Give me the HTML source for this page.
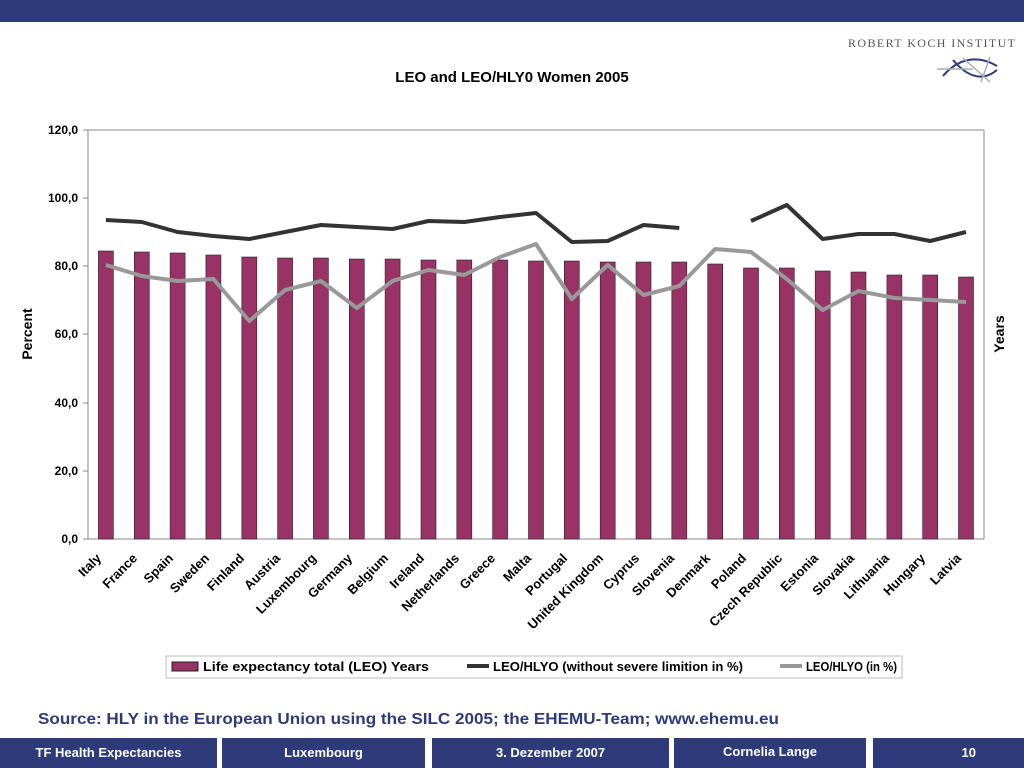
<!DOCTYPE html>
<html><head><meta charset="utf-8"><style>
body{margin:0;width:1024px;height:768px;background:#fff;font-family:"Liberation Sans",Arial,sans-serif;overflow:hidden;position:relative}
.f{position:absolute;top:738px;height:30px;background:#2e3a7a;color:#fff;font-size:13px;font-weight:bold;text-align:center;line-height:30px}
</style></head><body>
<div style="position:absolute;left:0;top:0;width:1024px;height:22px;background:#2e3a7a"></div>
<div style="position:absolute;left:848px;top:36px;white-space:nowrap;font-family:'Liberation Serif',serif;font-size:12px;letter-spacing:1.4px;color:#555">ROBERT KOCH INSTITUT</div>
<svg style="position:absolute;left:935px;top:54px" width="70" height="30"><path d="M8,22 C25,2 45,2 62,12 M18,6 C35,26 50,26 62,16" stroke="#2e3a7a" stroke-width="2" fill="none"/><path d="M2,15 L38,15 M28,4 L55,28 M55,3 L46,28" stroke="#aab" stroke-width="1.5"/></svg>
<svg style="position:absolute;left:0;top:0" width="1024" height="740" font-family="Liberation Sans,Arial,sans-serif">
<text x="512" y="82" text-anchor="middle" font-size="15" font-weight="bold">LEO and LEO/HLY0 Women 2005</text>
<g stroke="#888" stroke-width="1" fill="none">
<line x1="88" y1="130" x2="984" y2="130"/><line x1="88" y1="130" x2="88" y2="539"/><line x1="984" y1="130" x2="984" y2="539"/><line x1="88" y1="539" x2="984" y2="539"/>
<path d="M83,130h5M83,198h5M83,266h5M83,334h5M83,403h5M83,471h5M83,539h5"/>
</g>
<g font-size="12" font-weight="bold" text-anchor="end">
<text x="78" y="134">120,0</text><text x="78" y="202">100,0</text><text x="78" y="270">80,0</text><text x="78" y="338">60,0</text><text x="78" y="407">40,0</text><text x="78" y="475">20,0</text><text x="78" y="543">0,0</text>
</g>
<text transform="translate(32,334) rotate(-90)" text-anchor="middle" font-size="14" font-weight="bold">Percent</text>
<text transform="translate(1004,334) rotate(-90)" text-anchor="middle" font-size="14" font-weight="bold">Years</text>
<g fill="#993366" stroke="#222" stroke-width="0.6">
<rect x="98.4" y="251" width="15" height="288"/><rect x="134.3" y="252" width="15" height="287"/><rect x="170.1" y="253" width="15" height="286"/><rect x="205.9" y="255" width="15" height="284"/><rect x="241.8" y="257" width="15" height="282"/><rect x="277.6" y="258" width="15" height="281"/><rect x="313.4" y="258" width="15" height="281"/><rect x="349.3" y="259" width="15" height="280"/><rect x="385.1" y="259" width="15" height="280"/><rect x="421" y="260" width="15" height="279"/><rect x="456.8" y="260" width="15" height="279"/><rect x="492.6" y="260" width="15" height="279"/><rect x="528.5" y="261" width="15" height="278"/><rect x="564.3" y="261" width="15" height="278"/><rect x="600.2" y="262" width="15" height="277"/><rect x="636" y="262" width="15" height="277"/><rect x="671.8" y="262" width="15" height="277"/><rect x="707.7" y="264" width="15" height="275"/><rect x="743.5" y="268" width="15" height="271"/><rect x="779.3" y="268" width="15" height="271"/><rect x="815.2" y="271" width="15" height="268"/><rect x="851" y="272" width="15" height="267"/><rect x="886.9" y="275" width="15" height="264"/><rect x="922.7" y="275" width="15" height="264"/><rect x="958.5" y="277" width="15" height="262"/>
</g>
<g fill="none" stroke-width="4" stroke-linejoin="round">
<polyline stroke="#333" points="105.9,220 141.8,222 177.6,232 213.4,236 249.3,239 285.1,232 320.9,225 356.8,227 392.6,229 428.5,221 464.3,222 500.1,217 536,213 571.8,242 607.7,241 643.5,225 679.3,228"/>
<polyline stroke="#333" points="751,221 786.8,205 822.7,239 858.5,234 894.4,234 930.2,241 966,232"/>
<polyline stroke="#999" points="105.9,265 141.8,276 177.6,281 213.4,279 249.3,321 285.1,290 320.9,281 356.8,308 392.6,281 428.5,270 464.3,275 500.1,257 536,244 571.8,299 607.7,265 643.5,295 679.3,286 715.2,249 751,252 786.8,279 822.7,310 858.5,291 894.4,298 930.2,300 966,302"/>
</g>
<g font-size="13" font-weight="bold" text-anchor="end">
<text transform="translate(102,559) rotate(-45)">Italy</text>
<text transform="translate(138,559) rotate(-45)">France</text>
<text transform="translate(174,559) rotate(-45)">Spain</text>
<text transform="translate(210,559) rotate(-45)">Sweden</text>
<text transform="translate(245,559) rotate(-45)">Finland</text>
<text transform="translate(281,559) rotate(-45)">Austria</text>
<text transform="translate(317,559) rotate(-45)">Luxembourg</text>
<text transform="translate(353,559) rotate(-45)">Germany</text>
<text transform="translate(389,559) rotate(-45)">Belgium</text>
<text transform="translate(425,559) rotate(-45)">Ireland</text>
<text transform="translate(460,559) rotate(-45)">Netherlands</text>
<text transform="translate(496,559) rotate(-45)">Greece</text>
<text transform="translate(532,559) rotate(-45)">Malta</text>
<text transform="translate(568,559) rotate(-45)">Portugal</text>
<text transform="translate(604,559) rotate(-45)">United Kingdom</text>
<text transform="translate(640,559) rotate(-45)">Cyprus</text>
<text transform="translate(675,559) rotate(-45)">Slovenia</text>
<text transform="translate(711,559) rotate(-45)">Denmark</text>
<text transform="translate(747,559) rotate(-45)">Poland</text>
<text transform="translate(783,559) rotate(-45)">Czech Republic</text>
<text transform="translate(819,559) rotate(-45)">Estonia</text>
<text transform="translate(855,559) rotate(-45)">Slovakia</text>
<text transform="translate(890,559) rotate(-45)">Lithuania</text>
<text transform="translate(926,559) rotate(-45)">Hungary</text>
<text transform="translate(962,559) rotate(-45)">Latvia</text>
</g>
<rect x="166" y="656" width="736" height="22" fill="#fff" stroke="#bbb"/>
<rect x="172" y="662" width="26" height="9" fill="#993366" stroke="#222"/>
<line x1="467" y1="666" x2="489" y2="666" stroke="#333" stroke-width="4"/>
<line x1="780" y1="666" x2="802" y2="666" stroke="#999" stroke-width="4"/>
<g font-size="13" font-weight="bold"><text x="203" y="671" textLength="226" lengthAdjust="spacingAndGlyphs">Life expectancy total (LEO) Years</text><text x="493" y="671" textLength="250" lengthAdjust="spacingAndGlyphs">LEO/HLYO (without severe limition in %)</text><text x="806" y="671" textLength="91" lengthAdjust="spacingAndGlyphs">LEO/HLYO (in %)</text></g>
<text x="38" y="724" font-size="16" font-weight="bold" fill="#2e3a7a" textLength="741" lengthAdjust="spacingAndGlyphs">Source: HLY in the European Union using the SILC 2005; the EHEMU-Team; www.ehemu.eu</text>
</svg>
<div class="f" style="left:0;width:217px">TF Health Expectancies</div>
<div class="f" style="left:222px;width:203px">Luxembourg</div>
<div class="f" style="left:432px;width:237px">3. Dezember 2007</div>
<div class="f" style="left:674px;width:192px;line-height:28px">Cornelia Lange</div>
<div class="f" style="left:873px;width:151px;text-align:right"><span style="margin-right:48px">10</span></div>
</body></html>
